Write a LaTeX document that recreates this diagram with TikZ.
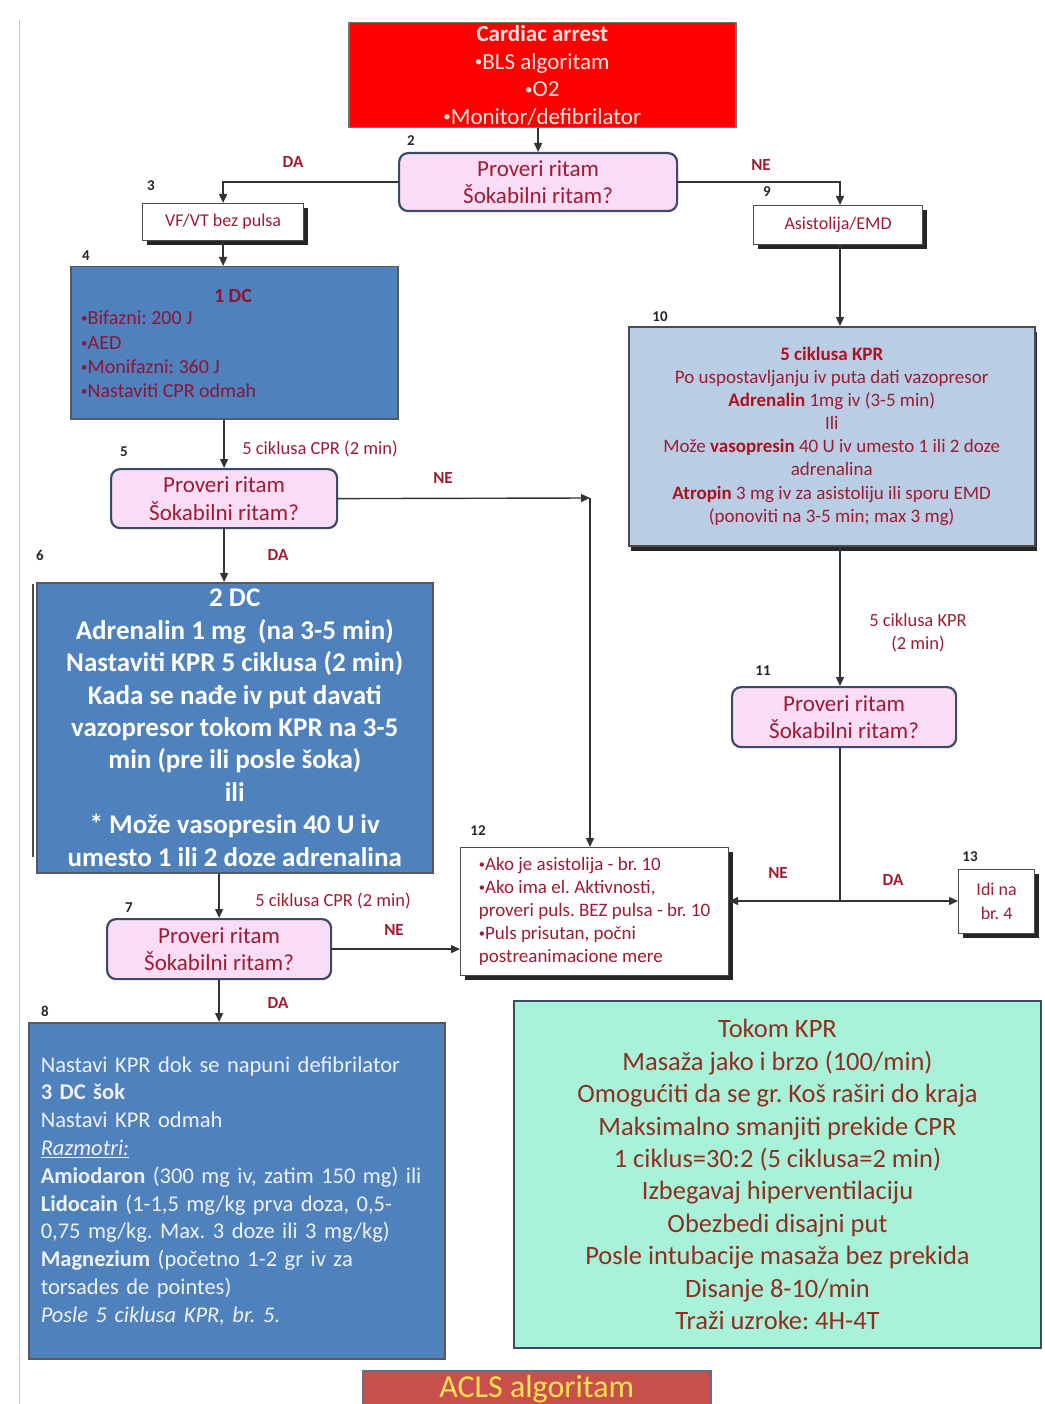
\documentclass[tikz,border=0pt]{standalone}
\usepackage{fontspec}
\usepackage{graphicx}
\setmainfont{Carlito}
\usetikzlibrary{shadows,arrows.meta}

\definecolor{alarmred}{HTML}{FF0000}
\definecolor{palepink}{HTML}{FFE4E4}
\definecolor{lilac}{HTML}{F9DDF6}
\definecolor{slate}{HTML}{3B4A66}
\definecolor{maroon}{HTML}{9E1B32}
\definecolor{deepred}{HTML}{B0101E}
\definecolor{maroonB}{HTML}{8A1538}
\definecolor{blueA}{HTML}{4F81BD}
\definecolor{paleblue}{HTML}{B9CDE5}
\definecolor{paletext}{HTML}{EEF2F8}
\definecolor{mint}{HTML}{A9F2DA}
\definecolor{brownred}{HTML}{8E2F1F}
\definecolor{titlered}{HTML}{C94F4C}
\definecolor{titleyellow}{HTML}{FFE34F}

\newcommand\fsz[2]{\fontsize{#1}{#2}\selectfont}
\newcommand\dotmark{\raisebox{0.1em}{\scalebox{0.65}{•}}}

\begin{document}
\frenchspacing
\begin{tikzpicture}[x=1pt,y=-1pt,
  boxbase/.style={draw=black!65, line width=1.5pt, inner sep=0pt, anchor=north west},
  question/.style={boxbase, rounded corners=9pt, draw=slate, line width=2.2pt,
    fill=lilac, text=maroon, align=center, font=\fsz{23}{27.5}},
  plainbox/.style={boxbase, fill=white, draw=black!70, line width=1.2pt,
    text=maroon, font=\fsz{18}{24}, align=center,
    drop shadow={shadow xshift=4pt, shadow yshift=-4pt, fill=black!85, opacity=1}},
  stepno/.style={font=\bfseries\fsz{15}{15}, text=black!85, inner sep=0pt},
  edgelbl/.style={text=maroon, font=\fsz{18.5}{23}, inner sep=0pt, align=center},
  yesno/.style={text=maroon, font=\bfseries\fsz{17}{17}, inner sep=0pt},
  flow/.style={draw=black!80, line width=1.4pt},
  arr/.style={flow, -{Triangle[length=9pt,width=8pt]}}
]
\useasboundingbox (0,0) rectangle (1044,1404);

% page edge
\draw[gray!45, line width=1pt] (19,20) -- (19,1404);

% ---------- top ----------
\node[boxbase, fill=alarmred, draw=black!55, minimum width=387pt, minimum height=105pt,
      text=palepink, align=center, font=\fsz{23}{27.5}] (arrest) at (348,22)
  {\textbf{Cardiac arrest}\\\dotmark BLS algoritam\\\dotmark O2\\\dotmark Monitor/defibrilator};

\node[question, minimum width=278pt, minimum height=58pt] (q2) at (398,152)
  {Proveri ritam\\Šokabilni ritam?};
\node[stepno] (s2) at (411,141) {2};

\node[plainbox, minimum width=161pt, minimum height=37pt] (vf) at (142,203) {VF/VT bez pulsa};
\node[stepno] (s3) at (151,186) {3};

\node[plainbox, minimum width=169pt, minimum height=39pt] (asy) at (753,205) {Asistolija/EMD};
\node[stepno] (s9) at (767,192) {9};

% ---------- left column ----------
\node[boxbase, fill=blueA, minimum width=327pt, minimum height=152pt] (dc1) at (70,266) {};
\node[text=maroonB, font=\bfseries\fsz{20}{24}, inner sep=0pt] (dc1t) at (233,296) {1 DC};
\node[anchor=north west, inner sep=0pt, text=maroonB, align=left, font=\fsz{20}{24.2}] (dc1b) at (81,311)
  {\dotmark Bifazni: 200 J\\\dotmark AED\\\dotmark Monifazni: 360 J\\\dotmark Nastaviti CPR odmah};
\node[stepno] (s4) at (86,256) {4};

\node[question, minimum width=226pt, minimum height=59pt] (q5) at (110,468)
  {Proveri ritam\\Šokabilni ritam?};
\node[stepno] (s5) at (124,452) {5};

\draw[black!70, line width=2pt] (33,584) -- (33,857);
\node[boxbase, fill=blueA, minimum width=396pt, minimum height=290pt, text=white,
      align=center, font=\bfseries\fsz{27}{32.4}] (dc2) at (36,582)
  {2 DC\\Adrenalin 1 mg~~(na 3-5 min)\\Nastaviti KPR 5 ciklusa (2 min)\\Kada se nađe iv put davati\\
   vazopresor tokom KPR na 3-5\\min (pre ili posle šoka)\\ili\\* Može vasopresin 40 U iv\\
   umesto 1 ili 2 doze adrenalina};
\node[stepno] (s6) at (40,555) {6};

\node[question, minimum width=224pt, minimum height=60pt] (q7) at (106,918)
  {Proveri ritam\\Šokabilni ritam?};
\node[stepno] (s7) at (129,908) {7};

\node[boxbase, fill=blueA, minimum width=416pt, minimum height=336pt, text=paletext,
      text width=392pt, inner xsep=12pt, align=left, font=\fsz{22.5}{27.8}] (dc3) at (28,1022)
  {Nastavi KPR dok se napuni defibrilator\\
   \textbf{3 DC šok}\\
   Nastavi KPR odmah\\
   \textit{\underline{Razmotri:}}\\
   \textbf{Amiodaron} (300 mg iv, zatim 150 mg) ili\\
   \textbf{Lidocain} (1-1,5 mg/kg prva doza, 0,5-\\
   0,75 mg/kg. Max. 3 doze ili 3 mg/kg)\\
   \textbf{Magnezium} (početno 1-2 gr iv za\\
   torsades de pointes)\\
   \textit{Posle 5 ciklusa KPR, br. 5.}};
\node[stepno] (s8) at (45,1011) {8};

% ---------- right column ----------
\node[boxbase, fill=paleblue, draw=black!70, minimum width=406pt, minimum height=219pt,
      text=maroon, align=center, font=\fsz{19}{23.1},
      drop shadow={shadow xshift=2pt, shadow yshift=-5pt, fill=black!85, opacity=1}] (asyx) at (628,326)
  {\textcolor{deepred}{\textbf{5 ciklusa KPR}}\\
   Po uspostavljanju iv puta dati vazopresor\\
   \textcolor{deepred}{\textbf{Adrenalin}} 1mg iv (3-5 min)\\
   Ili\\
   Može \textcolor{deepred}{\textbf{vasopresin}} 40 U iv umesto 1 ili 2 doze\\
   adrenalina\\
   \textcolor{deepred}{\textbf{Atropin}} 3 mg iv za asistoliju ili sporu EMD\\
   (ponoviti na 3-5 min; max 3 mg)};
\node[stepno] (s10) at (660,317) {10};

\node[question, minimum width=224pt, minimum height=60pt] (q11) at (731,686)
  {Proveri ritam\\Šokabilni ritam?};
\node[stepno] (s11) at (763,671) {11};

\node[plainbox, minimum width=268pt, minimum height=128pt, align=left, font=\fsz{19}{23}] (note12) at (460,847)
  {\dotmark Ako je asistolija - br. 10\\\dotmark Ako ima el. Aktivnosti,\\proveri puls. BEZ pulsa - br. 10\\
   \dotmark Puls prisutan, počni\\postreanimacione mere};
\node[stepno] (s12) at (478,831) {12};

\node[plainbox, minimum width=76pt, minimum height=64pt] (ret) at (958,869) {Idi na\\br. 4};
\node[stepno] (s13) at (970,857) {13};

\node[boxbase, fill=mint, draw=slate, line width=2pt, minimum width=527pt, minimum height=347pt,
      text=brownred, align=center, font=\fsz{26.5}{32.4}] (during) at (513,1000)
  {Tokom KPR\\Masaža jako i brzo (100/min)\\Omogućiti da se gr. Koš raširi do kraja\\
   Maksimalno smanjiti prekide CPR\\1 ciklus=30:2 (5 ciklusa=2 min)\\Izbegavaj hiperventilaciju\\
   Obezbedi disajni put\\Posle intubacije masaža bez prekida\\Disanje 8-10/min\\Traži uzroke: 4H-4T};

\node[boxbase, fill=titlered, draw=slate!80, minimum width=348pt, minimum height=36pt,
      text=titleyellow, font=\fsz{32}{32}] (title) at (362,1370) {ACLS algoritam};

% ---------- connectors ----------
\coordinate (spine) at (840,0);
\coordinate (bend5) at (590,498);
\coordinate (join) at (840,901);

\draw[arr] (q2.north |- arrest.south) -- (q2.north);
\draw[arr] (q2.west) -| (vf.north);
\draw[arr] (q2.east) -| (spine |- asy.north);
\node[yesno] (da2) at (293,162) {DA};
\node[yesno] (ne2) at (761,165) {NE};

\draw[arr] (vf.south) -- (vf.south |- dc1.north);
\draw[arr] (q5.north |- dc1.south) -- (q5.north);
\node[edgelbl] (c5) at (320,449) {5 ciklusa CPR (2 min)};

\draw[arr] (q5.east) -- (bend5);
\draw[arr] (bend5) -- (bend5 |- note12.north);
\node[yesno] (ne5) at (443,478) {NE};

\draw[arr] (q5.south) -- (q5.south |- dc2.north);
\node[yesno] (da5) at (278,555) {DA};

\draw[arr] (q7.north |- dc2.south) -- (q7.north);
\node[edgelbl] (c7) at (333,901) {5 ciklusa CPR (2 min)};

\draw[arr] (q7.east) -- (q7.east -| note12.west);
\node[yesno] (ne7) at (394,930) {NE};

\draw[arr] (q7.south) -- (q7.south |- dc3.north);
\node[yesno] (da7) at (278,1003) {DA};

\draw[arr] (spine |- asy.south) -- (spine |- asyx.north);
\draw[arr] (spine |- asyx.south) -- (spine |- q11.north);
\node[edgelbl] (c10) at (918,633) {5 ciklusa KPR\\(2 min)};

\draw[flow] (spine |- q11.south) -- (join);
\draw[arr] (join) -- (join -| note12.east);
\draw[arr] (join) -- (join -| ret.west);
\node[yesno] (ne11) at (778,873) {NE};
\node[yesno] (da11) at (893,880) {DA};
\end{tikzpicture}
\end{document}
